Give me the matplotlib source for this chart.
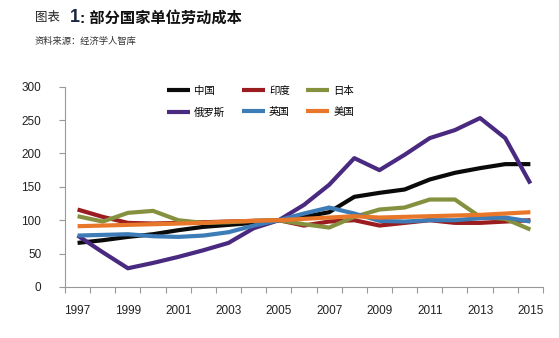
import numpy as np
from matplotlib import pyplot as plt

plt.rcParams['font.family'] = ['Liberation Sans', 'Noto Sans CJK SC', 'DejaVu Sans']

# 单位劳动成本指数 (2005 = 100)
years = np.arange(1997, 2016)
china = [66, 70, 75, 79, 85, 90, 93, 96, 100, 105, 112, 135, 141, 146, 161, 171, 178, 184, 184]
india = [116, 105, 96, 95, 96, 97, 98, 99, 100, 92, 98, 100, 92, 96, 100, 96, 96, 98, 100]
japan = [106, 98, 111, 114, 100, 96, 97, 99, 100, 94, 89, 105, 116, 119, 131, 131, 105, 102, 86]
russia = [77, 52, 28, 36, 45, 55, 66, 88, 100, 123, 153, 193, 175, 198, 223, 235, 253, 223, 155]
uk = [77, 78, 79, 76, 75, 77, 82, 92, 100, 110, 119, 110, 99, 98, 100, 100, 103, 104, 98]
us = [91, 92, 93, 94, 95, 96, 98, 99, 100, 102, 104, 106, 104, 105, 106, 107, 108, 110, 112]

series = [
    ('中国', china, '#0a0a0a'),
    ('印度', india, '#9a1c1f'),
    ('日本', japan, '#86913f'),
    ('俄罗斯', russia, '#4a2a80'),
    ('英国', uk, '#3d7cb6'),
    ('美国', us, '#e8772a'),
]

fig = plt.figure(figsize=(5.59, 3.38), dpi=100)
ax = fig.add_axes([0.1163, 0.151, 0.855, 0.5925])

lignes = []
for nom, vals, col in series:
    l, = ax.plot(years, vals, color=col, lw=3, label=nom, solid_capstyle='butt')
    lignes.append(l)

ax.set_xlim(1996.5, 2015.5)
ax.set_ylim(0, 300)

# graduations : traits entre les années, étiquettes une année sur deux
ax.set_xticks(np.arange(1996.5, 2016, 1))
ax.set_xticklabels([])
ax.set_xticks(np.arange(1997, 2016, 2), minor=True)
ax.set_xticklabels([str(a) for a in range(1997, 2016, 2)], minor=True)
ax.tick_params(axis='x', which='major', length=4, width=0.8, color='#999999', direction='out')
ax.tick_params(axis='x', which='minor', length=0, pad=13, labelsize=8.5, labelcolor='#222222')

ax.set_yticks(np.arange(0, 301, 50))
ax.tick_params(axis='y', length=4, width=0.8, color='#999999', pad=13, labelsize=8.5, labelcolor='#222222')

for s in ['top', 'right']:
    ax.spines[s].set_visible(False)
for s in ['left', 'bottom']:
    ax.spines[s].set_color('#999999')
    ax.spines[s].set_linewidth(0.8)

# legende remplie par colonnes : on réordonne pour lire ligne par ligne
ordre = [0, 3, 1, 4, 2, 5]
ax.legend([lignes[i] for i in ordre], [series[i][0] for i in ordre],
          ncol=3, frameon=False, loc='upper left',
          bbox_to_anchor=(167/559, 1 - 86/338), bbox_transform=fig.transFigure,
          fontsize=7.5, handlelength=2.2, handletextpad=0.4,
          columnspacing=1.6, labelspacing=1.05, borderpad=0, borderaxespad=0)

# titre
fig.text(35/559, 1 - 18/338, '图表', fontsize=9, color='#222222', va='center')
fig.text(70/559, 1 - 18/338, '1', fontsize=13, fontweight='bold', color='#1a2440', va='center')
fig.text(80/559, 1 - 18/338, ': 部分国家单位劳动成本', fontsize=11, fontweight='bold',
         color='#111111', va='center')
fig.text(35/559, 1 - 41.5/338, '资料来源：经济学人智库', fontsize=6.7, color='#333333', va='center')

fig.savefig('out.png', dpi=100)
